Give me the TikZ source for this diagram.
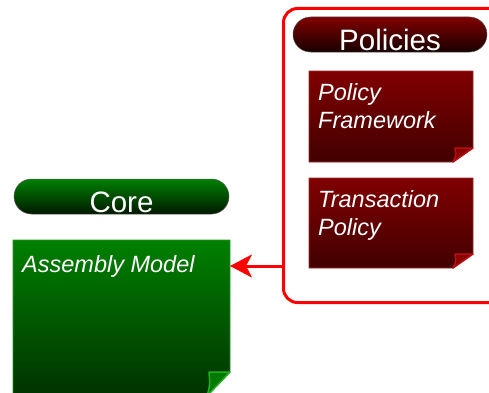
\documentclass[tikz,border=0pt]{standalone}
\usepackage{fontspec}
\setmainfont{Liberation Sans}
\usetikzlibrary{arrows.meta,calc}
\definecolor{grnTop}{HTML}{008000}
\definecolor{grnBot}{HTML}{003200}
\definecolor{grnPillBot}{HTML}{001800}
\definecolor{grnEdge}{HTML}{1E9A1E}
\definecolor{grnFold}{HTML}{007A00}
\definecolor{grnFoldEdge}{HTML}{22B022}
\definecolor{redTop}{HTML}{800000}
\definecolor{redBot}{HTML}{420000}
\definecolor{redPillBot}{HTML}{180000}
\definecolor{redEdge}{HTML}{A02828}
\definecolor{redFold}{HTML}{8A0000}
\definecolor{redFoldEdge}{HTML}{B81010}
\definecolor{arrowRed}{HTML}{FF0000}
\newcommand\foldbox[8]{%
  \path[draw=#4,line width=0.7pt,top color=#2,bottom color=#3]
    (#1.north west) -- (#1.north east) -- ($(#1.south east)+(0,#7)$)
    -- ($(#1.south east)+(-#6,0)$) -- (#1.south west) -- cycle;
  \path[fill=#5,draw=#8,line width=1.5pt,line join=round]
    ($(#1.south east)+(-#6,0)$) .. controls ($(#1.south east)+(-#6+3,0.45*#7)$) ..
    ($(#1.south east)+(-#6+2,#7)$) -- ($(#1.south east)+(0,#7)$) -- cycle;
}
\tikzset{
  boxnode/.style={inner sep=0pt,outer sep=0pt,anchor=north west},
  pillnode/.style={inner sep=0pt,outer sep=0pt,anchor=north west,rounded corners=17.5pt,
    draw=gray!70!black,line width=0.5pt,minimum height=35pt},
  greenpill/.style={pillnode,top color=grnTop,bottom color=grnPillBot},
  redpill/.style={pillnode,top color=redTop,bottom color=redPillBot},
  titletext/.style={inner sep=0pt,anchor=base,text=white,font=\fontsize{29.5}{33}\selectfont},
  itemtext/.style={inner sep=0pt,text=white,align=left,font=\fontsize{23.5}{28.5}\selectfont\itshape},
  groupframe/.style={draw=arrowRed,line width=3pt,rounded corners=14pt,inner sep=0pt,outer sep=0pt,anchor=north west},
  linkarrow/.style={draw=arrowRed,line width=3pt,-{Stealth[length=22pt,width=23pt,inset=6pt]}}
}
\begin{document}
\begin{tikzpicture}[x=1pt,y=1pt]
\useasboundingbox (0,0) rectangle (489,392);
% policies group frame
\node[groupframe,minimum width=225pt,minimum height=294pt] (grp) at (283.5,383.5) {};
% policies pill
\node[redpill,minimum width=194pt] (polpill) at (293,375) {};
\node[titletext] (poltitle) at ($(polpill.south)+(0,1.5)$) {Policies};
% policy framework
\node[boxnode,minimum width=164pt,minimum height=91pt] (pf) at (309,321) {};
\foldbox{pf}{redTop}{redBot}{redEdge}{redFold}{20}{14}{redFoldEdge}
\node[itemtext,anchor=north west] (pftext) at (318,309) {Policy\\Framework};
% transaction policy
\node[boxnode,minimum width=164pt,minimum height=90pt] (tp) at (309,214) {};
\foldbox{tp}{redTop}{redBot}{redEdge}{redFold}{20}{14}{redFoldEdge}
\node[itemtext,anchor=north west] (tptext) at (318,202) {Transaction\\Policy};
% core pill
\node[greenpill,minimum width=215pt] (corepill) at (14,213) {};
\node[titletext] (coretitle) at ($(corepill.south)+(0,1.5)$) {Core};
% assembly model
\node[boxnode,minimum width=217pt,minimum height=156pt] (am) at (13,152) {};
\foldbox{am}{grnTop}{grnBot}{grnEdge}{grnFold}{23}{24}{grnFoldEdge}
\node[itemtext,anchor=base west] (amtext) at (22,120) {Assembly Model};
% connector
\coordinate (arrowlevel) at (0,126);
\draw[linkarrow] (grp.west |- arrowlevel) -- (am.east |- arrowlevel);
\end{tikzpicture}
\end{document}
